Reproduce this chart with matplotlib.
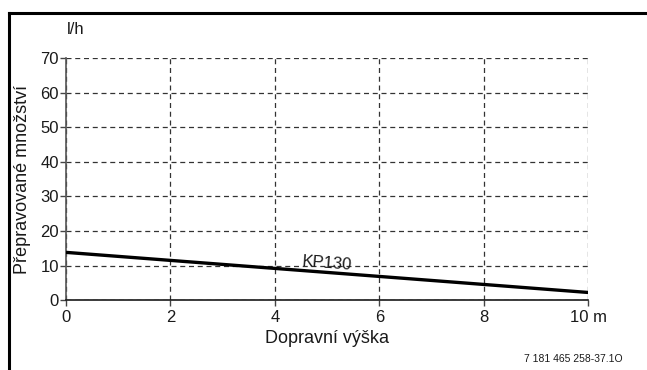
import matplotlib
matplotlib.use("Agg")
import matplotlib.pyplot as plt
from matplotlib.lines import Line2D

# pump curve KP130
head_m = [0, 10]
flow_lh = [13.8, 2.2]
x_ticks = [0, 2, 4, 6, 8, 10]
x_labels = ["0", "2", "4", "6", "8", "10 m"]
y_ticks = [0, 10, 20, 30, 40, 50, 60, 70]

plt.rcParams.update({"font.family": ["Liberation Sans", "DejaVu Sans"], "font.size": 12})
INK = "#1a1a1a"; GRID = "#333333"

fig = plt.figure(figsize=(6.47, 3.70), dpi=100)
ax = fig.add_axes([0.102, 0.189, 0.807, 0.654])

ax.plot(head_m, flow_lh, color="black", lw=2.4, solid_capstyle="butt", zorder=3)
ax.text(5.0, 10.6, "KP130", rotation=-4.4, ha="center", va="center", fontsize=12, color=INK)

ax.set_xlim(0, 10); ax.set_ylim(0, 70)
ax.set_xticks(x_ticks); ax.set_xticklabels(x_labels)
ax.set_yticks(y_ticks)
ax.grid(True, ls=(0, (4, 3)), lw=0.9, color=GRID)
for s in ("top", "right"):
    ax.spines[s].set_visible(False)
ax.spines["left"].set_color("#555555"); ax.spines["left"].set_linewidth(1.2)
ax.spines["bottom"].set_color(INK); ax.spines["bottom"].set_linewidth(1.2)
ax.tick_params(axis="both", length=4, width=1, color="#444444", labelcolor=INK, pad=1)
ax.tick_params(axis="x", pad=3)

ax.set_xlabel("Dopravní výška", fontsize=13, color=INK, labelpad=4)
ax.set_ylabel("Přepravované množství", fontsize=13, color=INK, labelpad=7)
fig.text(67 / 647, 1 - 30 / 370, "l/h", ha="left", va="center", fontsize=12, color=INK)
fig.text(0.962, 1 - 359 / 370, "7 181 465 258-37.1O", ha="right", va="center", fontsize=7.5, color=INK)

# partial frame: left and top edges
fig.add_artist(Line2D([9 / 647, 9 / 647], [0, 1 - 13 / 370], color="black", lw=2.2, transform=fig.transFigure))
fig.add_artist(Line2D([9 / 647, 1], [1 - 13 / 370, 1 - 13 / 370], color="black", lw=2.2, transform=fig.transFigure))

fig.savefig("out.png", dpi=100, facecolor="white")
